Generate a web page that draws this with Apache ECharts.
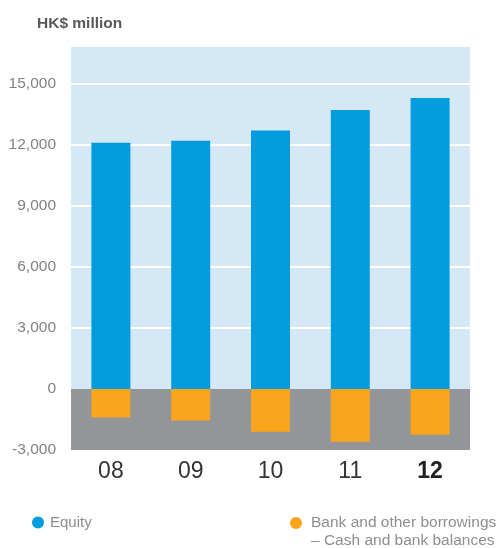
<!DOCTYPE html>
<html><head><meta charset="utf-8">
<script src="https://cdn.jsdelivr.net/npm/echarts@6/dist/echarts.min.js"></script>
<style>html,body{margin:0;padding:0;background:#fff}#c{width:500px;height:548px}</style>
</head><body><div id="c"></div>
<script>
var categories = ['08', '09', '10', '11', '12'];
var equity = [12100, 12200, 12700, 13700, 14300];
var netDebt = [-1400, -1550, -2100, -2600, -2250];
var yTicks = [-3000, 0, 3000, 6000, 9000, 12000, 15000];
var seriesNames = ['Equity', 'Bank and other borrowings – Cash and bank balances'];
var legendLines = ['Bank and other borrowings', '– Cash and bank balances'];

var chart = echarts.init(document.getElementById('c'));
var fontFam = 'Liberation Sans, Arial, sans-serif';
chart.setOption({
  animation: false,
  textStyle: {fontFamily: fontFam},
  title: {text: 'HK$ million', left: 32, top: 11,
    textStyle: {fontSize: 15.5, fontWeight: 'bold', color: '#58595b', fontFamily: fontFam}},
  grid: {left: 71, right: 30, top: 47, bottom: 98, show: true, borderWidth: 0, backgroundColor: '#d5e8f6'},
  legend: [
    {data: [seriesNames[0]], left: 27, top: 510, icon: 'circle', itemWidth: 12, itemHeight: 12,
      textStyle: {fontSize: 15, color: '#8c8e90', fontFamily: fontFam, padding: [0, 0, 0, 1]}},
    {data: [seriesNames[1]], left: 285, top: 510, icon: 'circle', itemWidth: 12, itemHeight: 12,
      formatter: function () { return legendLines[0]; },
      textStyle: {fontSize: 15.5, color: '#8c8e90', fontFamily: fontFam, padding: [0, 0, 0, 4]}}
  ],
  graphic: [{type: 'text', left: 311, top: 533,
    style: {text: legendLines[1], fontSize: 15.5, fill: '#8c8e90', fontFamily: fontFam}}],
  xAxis: {
    type: 'category', data: categories,
    axisLine: {show: false}, axisTick: {show: false},
    axisLabel: {margin: 10, fontSize: 23, color: '#333',
      formatter: function (v, i) { return i === categories.length - 1 ? '{b|' + v + '}' : v; },
      rich: {b: {fontSize: 23, fontWeight: 'bold', color: '#231f20'}}}
  },
  yAxis: {
    type: 'value', min: -3000, max: 16800, interval: 3000,
    axisLine: {show: false}, axisTick: {show: false},
    axisLabel: {margin: 15, fontSize: 15.5, color: '#808285',
      formatter: function (v) { return yTicks.indexOf(v) >= 0 ? v.toLocaleString('en-US') : ''; }},
    splitLine: {show: true, lineStyle: {width: 2,
      color: ['rgba(0,0,0,0)', 'rgba(0,0,0,0)', '#fff', '#fff', '#fff', '#fff', '#fff', 'rgba(0,0,0,0)']}}
  },
  series: [
    {name: 'bg', type: 'bar', data: [], z: 1, silent: true,
      markArea: {silent: true, itemStyle: {color: '#939598'},
        data: [[{yAxis: -3000}, {yAxis: 0}]]}},
    {name: seriesNames[0], type: 'bar', data: equity, barWidth: 39, z: 3,
      itemStyle: {color: '#009cde'}},
    {name: seriesNames[1], type: 'bar', data: netDebt, barWidth: 39, barGap: '-100%', z: 3,
      itemStyle: {color: '#f9a61c'}}
  ]
});
</script></body></html>
